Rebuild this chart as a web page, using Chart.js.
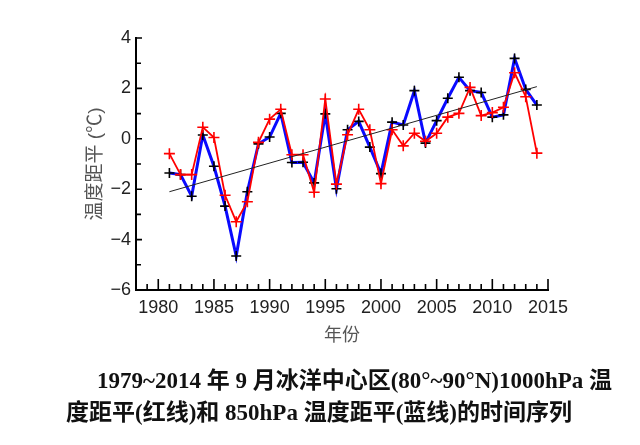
<!DOCTYPE html>
<html>
<head>
<meta charset="utf-8">
<script src="https://cdn.jsdelivr.net/npm/chart.js@4/dist/chart.umd.min.js"></script>
<style>
  html, body { margin: 0; padding: 0; background: #fff; }
  #wrap { position: relative; width: 640px; height: 445px; overflow: hidden; }
  canvas { position: absolute; left: 0; top: 0; }
  .cap { position: absolute; font-family: "Liberation Serif", "Noto Sans CJK SC", serif; font-weight: bold; font-size: 23px; color: #111; white-space: nowrap; line-height: 1; }
</style>
</head>
<body>
<div id="wrap">
  <canvas id="c" width="640" height="445"></canvas>
  <div class="cap" id="cap1" style="left:97px; top:369px;">1979~2014 年 9 月冰洋中心区(80°~90°N)1000hPa 温</div>
  <div class="cap" id="cap2" style="left:66px; top:401px;">度距平(红线)和 850hPa 温度距平(蓝线)的时间序列</div>
</div>
<script>
// ---- data ----
const years = [1981,1982,1983,1984,1985,1986,1987,1988,1989,1990,1991,1992,1993,1994,1995,1996,1997,1998,1999,2000,2001,2002,2003,2004,2005,2006,2007,2008,2009,2010,2011,2012,2013,2014];
// 1000hPa temperature anomaly (red)
const t1000 = [-0.59,-1.42,-1.42,0.46,0.05,-2.24,-3.29,-2.5,-0.14,0.78,1.17,-0.63,-0.63,-2.12,1.58,-1.8,0.16,1.17,0.36,-1.78,0.36,-0.28,0.22,-0.1,0.22,0.86,1.01,2.04,0.92,1.04,1.25,2.62,1.67,-0.57];
// 850hPa temperature anomaly (blue)
const t850 = [-1.36,-1.42,-2.28,0.15,-1.09,-2.67,-4.65,-2.1,-0.2,0.07,1.01,-0.94,-0.93,-1.75,0.99,-1.98,0.36,0.69,-0.33,-1.38,0.66,0.55,1.91,-0.17,0.72,1.61,2.44,1.91,1.84,0.86,0.95,3.19,1.96,1.34];
// linear trend line endpoints
const trendYears = [1981, 2014];
const trendValues = [-2.1, 2.07];
// axis ticks
const xTickLabels = [1980,1985,1990,1995,2000,2005,2010,2015];
const yTickLabels = [4,2,0,-2,-4,-6];

const xAxisTitle = '年份';
const yAxisTitle = '温度距平 (℃)';

const toXY = (xs, ys) => xs.map((x, i) => ({x: x, y: ys[i]}));

Chart.defaults.font.family = '"Liberation Sans", Arial, "Noto Sans CJK SC", sans-serif';

const inwardTicks = {
  id: 'inwardTicks',
  afterDraw(chart) {
    const ctx = chart.ctx;
    const xs = chart.scales.x, ys = chart.scales.y;
    const a = chart.chartArea;
    ctx.save();
    ctx.strokeStyle = '#000';
    ctx.lineWidth = 1.6;
    ctx.beginPath();
    for (let v = xs.min; v <= xs.max; v++) {
      const px = xs.getPixelForValue(v);
      const len = xTickLabels.includes(v) ? 11 : 6;
      ctx.moveTo(px, a.bottom);
      ctx.lineTo(px, a.bottom - len);
    }
    for (let v = ys.min; v <= ys.max; v++) {
      const py = ys.getPixelForValue(v);
      const len = yTickLabels.includes(v) ? 6 : 5;
      ctx.moveTo(a.left, py);
      ctx.lineTo(a.left + len, py);
    }
    ctx.stroke();
    ctx.restore();
  }
};

new Chart(document.getElementById('c'), {
  type: 'line',
  data: {
    datasets: [
      {
        label: 'trend',
        data: toXY(trendYears, trendValues),
        borderColor: '#222',
        borderWidth: 1,
        pointRadius: 0,
        order: 0
      },
      {
        label: '1000hPa',
        data: toXY(years, t1000),
        borderColor: '#ff0000',
        borderWidth: 1.8,
        pointStyle: 'cross',
        pointRadius: 5.5,
        pointBorderColor: '#ff0000',
        pointBorderWidth: 1.6,
        order: 1
      },
      {
        label: '850hPa',
        data: toXY(years, t850),
        borderColor: '#0a0aff',
        borderWidth: 3,
        pointStyle: 'cross',
        pointRadius: 5,
        pointBorderColor: '#000',
        pointBorderWidth: 1.6,
        order: 2
      }
    ]
  },
  options: {
    responsive: false,
    animation: false,
    devicePixelRatio: 1,
    layout: { padding: { left: 84, right: 92, top: 38, bottom: 90 } },
    plugins: { legend: { display: false }, tooltip: { enabled: false } },
    elements: { line: { tension: 0 } },
    scales: {
      x: {
        type: 'linear',
        min: 1978,
        max: 2015,
        grid: { display: false, drawTicks: false },
        border: { display: true, color: '#000', width: 2 },
        afterFit(s) { s.height = 65; },
        afterBuildTicks(s) { s.ticks = xTickLabels.map(v => ({value: v})); },
        ticks: { padding: 7, color: '#222', font: { size: 18 }, autoSkip: false, maxRotation: 0, callback: v => String(v) },
        title: { display: true, text: xAxisTitle, color: '#555', font: { size: 18 }, padding: { top: 0, bottom: 8 } }
      },
      y: {
        min: -6,
        max: 4,
        grid: { display: false, drawTicks: false },
        border: { display: true, color: '#000', width: 2 },
        afterFit(s) { s.width = 52; },
        afterBuildTicks(s) { s.ticks = yTickLabels.map(v => ({value: v})); },
        ticks: { padding: 5, color: '#222', font: { size: 18 }, callback: v => (v < 0 ? '\u2212' + Math.abs(v) : String(v)) },
        title: { display: true, text: yAxisTitle, color: '#555', font: { size: 19 }, padding: { top: 0, bottom: 0 } }
      }
    }
  },
  plugins: [inwardTicks]
});
</script>
</body>
</html>
